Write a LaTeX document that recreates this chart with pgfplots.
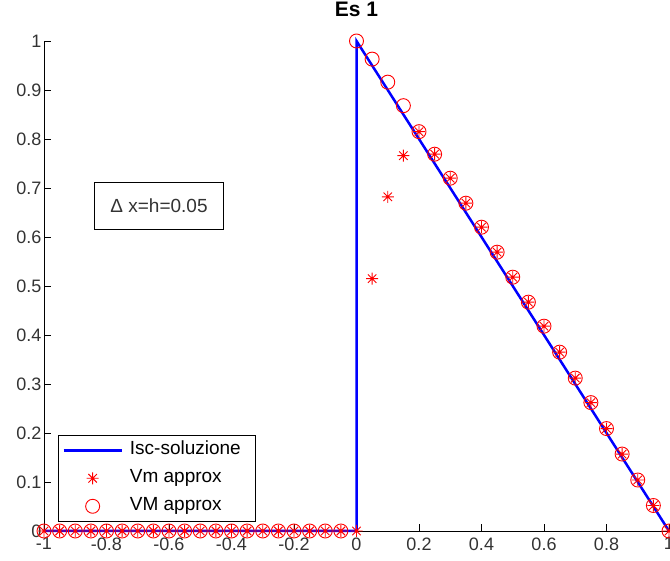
\documentclass[border=0pt]{standalone}
\usepackage{pgfplots}
\pgfplotsset{compat=1.18}
\usepackage{fontspec}
\setmainfont{Liberation Sans}
\pgfdeclareplotmark{mstar}{%
  \pgfpathmoveto{\pgfqpoint{-\pgfplotmarksize}{0pt}}\pgfpathlineto{\pgfqpoint{\pgfplotmarksize}{0pt}}%
  \pgfpathmoveto{\pgfqpoint{0pt}{-\pgfplotmarksize}}\pgfpathlineto{\pgfqpoint{0pt}{\pgfplotmarksize}}%
  \pgfpathmoveto{\pgfqpoint{-0.707\pgfplotmarksize}{-0.707\pgfplotmarksize}}\pgfpathlineto{\pgfqpoint{0.707\pgfplotmarksize}{0.707\pgfplotmarksize}}%
  \pgfpathmoveto{\pgfqpoint{-0.707\pgfplotmarksize}{0.707\pgfplotmarksize}}\pgfpathlineto{\pgfqpoint{0.707\pgfplotmarksize}{-0.707\pgfplotmarksize}}%
  \pgfusepathqstroke}
\definecolor{mred}{RGB}{255,0,0}
\definecolor{mblue}{RGB}{0,0,255}
\begin{document}
\begin{tikzpicture}
\begin{axis}[
  name=ax,
  at={(0,0)}, anchor=south west,
  scale only axis,
  width=625pt, height=490pt,
  xmin=-1, xmax=1, ymin=0, ymax=1,
  clip=false,
  axis lines=left,
  axis line style={-, black, line width=0.8pt},
  tick align=inside,
  major tick length=7pt,
  tick style={black, line width=0.8pt},
  xtick={-1,-0.8,-0.6,-0.4,-0.2,0,0.2,0.4,0.6,0.8,1},
  xticklabels={-1,-0.8,-0.6,-0.4,-0.2,0,0.2,0.4,0.6,0.8,1},
  ytick={0,0.1,0.2,0.3,0.4,0.5,0.6,0.7,0.8,0.9,1},
  yticklabels={0,0.1,0.2,0.3,0.4,0.5,0.6,0.7,0.8,0.9,1},
  tick label style={font=\fontsize{18}{21}\selectfont, text=black!80},
  xticklabel style={yshift=-3pt},
  yticklabel style={xshift=1pt},
  title={Es 1},
  title style={font=\bfseries\fontsize{21}{24}\selectfont, at={(axis description cs:0.5,1)}, anchor=base, yshift=18pt},
  legend style={at={(axis description cs:0.0224,0.019)}, anchor=south west,
    font=\fontsize{19}{22}\selectfont, draw=black, line width=0.8pt,
    nodes={font=\fontsize{19}{22}\selectfont, text height=13pt, text depth=4pt, inner ysep=5.5pt, inner xsep=3pt},
    inner xsep=4pt, inner ysep=1pt},
  legend cell align=left,
  legend image code/.code={\draw[mark repeat=2,mark phase=2,#1] plot coordinates {(0pt,0pt) (29pt,0pt) (58pt,0pt)};},
]
\addplot[mblue, line width=2.5pt] coordinates {(-1,0) (0,0) (0,1) (1,0)};
\addlegendentry{\hspace*{4pt}Isc-soluzione\hspace*{8pt}}
\addplot[only marks, mred, mark=mstar, mark size=6pt, line width=0.9pt] coordinates {
(-1,0) (-0.95,0) (-0.9,0) (-0.85,0) (-0.8,0) (-0.75,0) (-0.7,0) (-0.65,0) (-0.6,0) (-0.55,0)
(-0.5,0) (-0.45,0) (-0.4,0) (-0.35,0) (-0.3,0) (-0.25,0) (-0.2,0) (-0.15,0) (-0.1,0) (-0.05,0) (0,0)
(0.05,0.515) (0.10,0.682) (0.15,0.766) (0.20,0.815) (0.25,0.769) (0.30,0.720) (0.35,0.669)
(0.40,0.620) (0.45,0.569) (0.50,0.518) (0.55,0.467) (0.60,0.418) (0.65,0.365) (0.70,0.312)
(0.75,0.262) (0.80,0.209) (0.85,0.157) (0.90,0.104) (0.95,0.052) (1.00,0)};
\addlegendentry{\hspace*{4pt}Vm approx}
\addplot[only marks, mred, mark=o, mark size=7pt, line width=0.9pt] coordinates {
(-1,0) (-0.95,0) (-0.9,0) (-0.85,0) (-0.8,0) (-0.75,0) (-0.7,0) (-0.65,0) (-0.6,0) (-0.55,0)
(-0.5,0) (-0.45,0) (-0.4,0) (-0.35,0) (-0.3,0) (-0.25,0) (-0.2,0) (-0.15,0) (-0.1,0) (-0.05,0)
(0,1.0) (0.05,0.963) (0.10,0.916) (0.15,0.868) (0.20,0.815) (0.25,0.769) (0.30,0.720) (0.35,0.669)
(0.40,0.620) (0.45,0.569) (0.50,0.518) (0.55,0.467) (0.60,0.418) (0.65,0.365) (0.70,0.312)
(0.75,0.262) (0.80,0.209) (0.85,0.157) (0.90,0.104) (0.95,0.052) (1.00,0)};
\addlegendentry{\hspace*{4pt}VM approx}
\node[draw=black, line width=0.8pt, fill=white, minimum width=129pt, minimum height=47pt,
  font=\fontsize{19}{22}\selectfont, text=black!80] at (axis cs:-0.632,0.664) {Δ x=h=0.05};
\end{axis}
\pgfresetboundingbox
\path (ax.south west) ++(-44pt,-30pt) rectangle ++(670pt,561pt);
\end{tikzpicture}
\end{document}
